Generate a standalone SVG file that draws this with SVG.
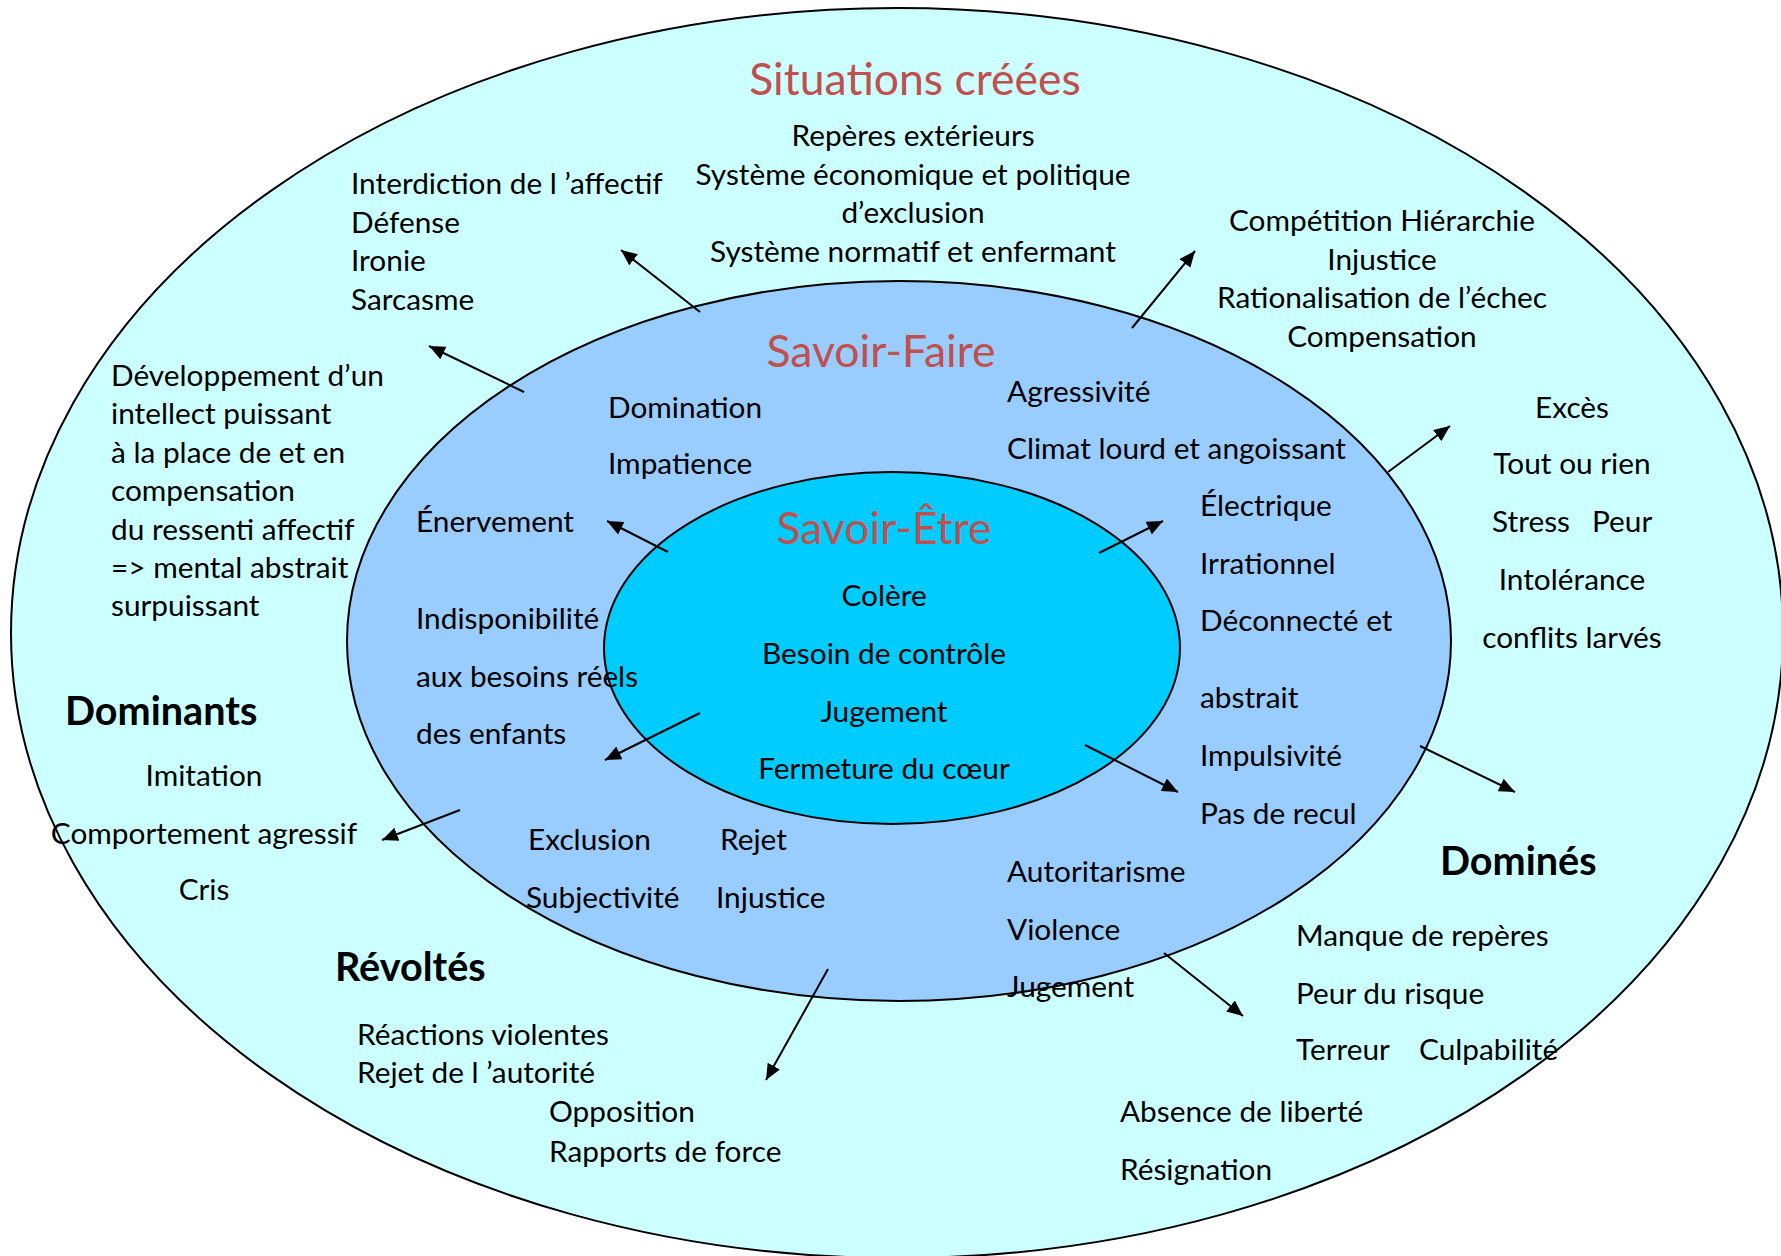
<svg xmlns="http://www.w3.org/2000/svg" width="1781" height="1256" viewBox="0 0 1781 1256">
<style>
text{font-family:Lato,"Liberation Sans",sans-serif;font-size:29.8px;fill:#000}
.t{font-size:44.5px;fill:#C0504D;text-anchor:middle}
.b{font-size:39.6px;font-weight:bold}
.m{text-anchor:middle}
.ell{stroke:#000;stroke-width:2}
.arr{stroke:#000;stroke-width:2;fill:none;marker-end:url(#ah)}
</style>
<defs>
<marker id="ah" markerUnits="userSpaceOnUse" markerWidth="18" markerHeight="14" refX="16" refY="7" orient="auto">
<path d="M0,0 L16,7 L0,14 z" fill="#000"/>
</marker>
</defs>
<rect width="1781" height="1256" fill="#fff"/>
<g id="situations">
<ellipse class="ell" cx="897" cy="633" rx="886" ry="625" fill="#CCFFFF"/>
<text class="t" x="915" y="95">Situations créées</text>
<text class="m" x="913" y="146">Repères extérieurs</text>
<text class="m" x="913" y="185">Système économique et politique</text>
<text class="m" x="913" y="223">d’exclusion</text>
<text class="m" x="913" y="262">Système normatif et enfermant</text>
<text x="351" y="194">Interdiction de l ’affectif</text>
<text x="351" y="233">Défense</text>
<text x="351" y="271">Ironie</text>
<text x="351" y="310">Sarcasme</text>
<text class="m" x="1382" y="231">Compétition Hiérarchie</text>
<text class="m" x="1382" y="270">Injustice</text>
<text class="m" x="1382" y="308">Rationalisation de l’échec</text>
<text class="m" x="1382" y="347">Compensation</text>
<text x="111" y="386">Développement d’un</text>
<text x="111" y="424">intellect puissant</text>
<text x="111" y="463">à la place de et en</text>
<text x="111" y="501">compensation</text>
<text x="111" y="540">du ressenti affectif</text>
<text x="111" y="578">=&gt; mental abstrait</text>
<text x="111" y="616">surpuissant</text>
<text class="m" x="1572" y="418">Excès</text>
<text class="m" x="1572" y="474">Tout ou rien</text>
<text><tspan x="1492" y="532">Stress</tspan><tspan x="1592" y="532">Peur</tspan></text>
<text class="m" x="1572" y="590">Intolérance</text>
<text class="m" x="1572" y="648">conflits larvés</text>
</g>
<g id="savoir-faire">
<ellipse class="ell" cx="899" cy="641" rx="552" ry="360" fill="#99CCFF"/>
<text class="t" x="881" y="367">Savoir-Faire</text>
<text x="608" y="418">Domination</text>
<text x="608" y="474">Impatience</text>
<text x="1007" y="402">Agressivité</text>
<text x="1007" y="459">Climat lourd et angoissant</text>
<text x="416" y="532">Énervement</text>
<text x="1200" y="516">Électrique</text>
<text x="1200" y="574">Irrationnel</text>
<text x="1200" y="631">Déconnecté et</text>
<text x="1200" y="708">abstrait</text>
<text x="1200" y="766">Impulsivité</text>
<text x="1200" y="824">Pas de recul</text>
<text x="528" y="850">Exclusion</text>
<text x="720" y="850">Rejet</text>
<text x="526" y="908">Subjectivité</text>
<text x="716" y="908">Injustice</text>
<text x="1007" y="882">Autoritarisme</text>
<text x="1007" y="940">Violence</text>
</g>
<g id="savoir-etre">
<ellipse class="ell" cx="892" cy="648" rx="288" ry="176" fill="#00CCFF"/>
<text class="t" x="884" y="544">Savoir-Être</text>
<text class="m" x="884" y="606">Colère</text>
<text class="m" x="884" y="664">Besoin de contrôle</text>
<text class="m" x="884" y="722">Jugement</text>
<text class="m" x="884" y="779">Fermeture du cœur</text>
</g>
<g id="overlay-texts">
<text x="416" y="629">Indisponibilité</text>
<text x="416" y="687">aux besoins réels</text>
<text x="416" y="744">des enfants</text>
<text x="1007" y="997">Jugement</text>
</g>
<g id="dominants">
<text class="b" x="65" y="725">Dominants</text>
<text class="m" x="204" y="786">Imitation</text>
<text class="m" x="204" y="844">Comportement agressif</text>
<text class="m" x="204" y="900">Cris</text>
</g>
<g id="domines">
<text class="b" x="1440" y="875">Dominés</text>
<text x="1296" y="946">Manque de repères</text>
<text x="1296" y="1004">Peur du risque</text>
<text><tspan x="1296" y="1060">Terreur</tspan><tspan x="1419" y="1060">Culpabilité</tspan></text>
<text x="1120" y="1122">Absence de liberté</text>
<text x="1120" y="1180">Résignation</text>
</g>
<g id="revoltes">
<text class="b" x="335" y="981">Révoltés</text>
<text x="357" y="1045">Réactions violentes</text>
<text x="357" y="1083">Rejet de l ’autorité</text>
<text x="549" y="1122">Opposition</text>
<text x="549" y="1162">Rapports de force</text>
</g>
<g id="connectors">
<line class="arr" x1="700" y1="312" x2="621" y2="250"/>
<line class="arr" x1="524" y1="392" x2="429" y2="346"/>
<line class="arr" x1="1132" y1="328" x2="1195" y2="251"/>
<line class="arr" x1="1388" y1="472" x2="1450" y2="426"/>
<line class="arr" x1="668" y1="552" x2="607" y2="521"/>
<line class="arr" x1="1099" y1="553" x2="1163" y2="521"/>
<line class="arr" x1="700" y1="713" x2="605" y2="760"/>
<line class="arr" x1="1085" y1="745" x2="1178" y2="792"/>
<line class="arr" x1="1420" y1="746" x2="1515" y2="792"/>
<line class="arr" x1="460" y1="810" x2="382" y2="840"/>
<line class="arr" x1="828" y1="969" x2="766" y2="1080"/>
<line class="arr" x1="1164" y1="953" x2="1243" y2="1016"/>
</g>
</svg>
